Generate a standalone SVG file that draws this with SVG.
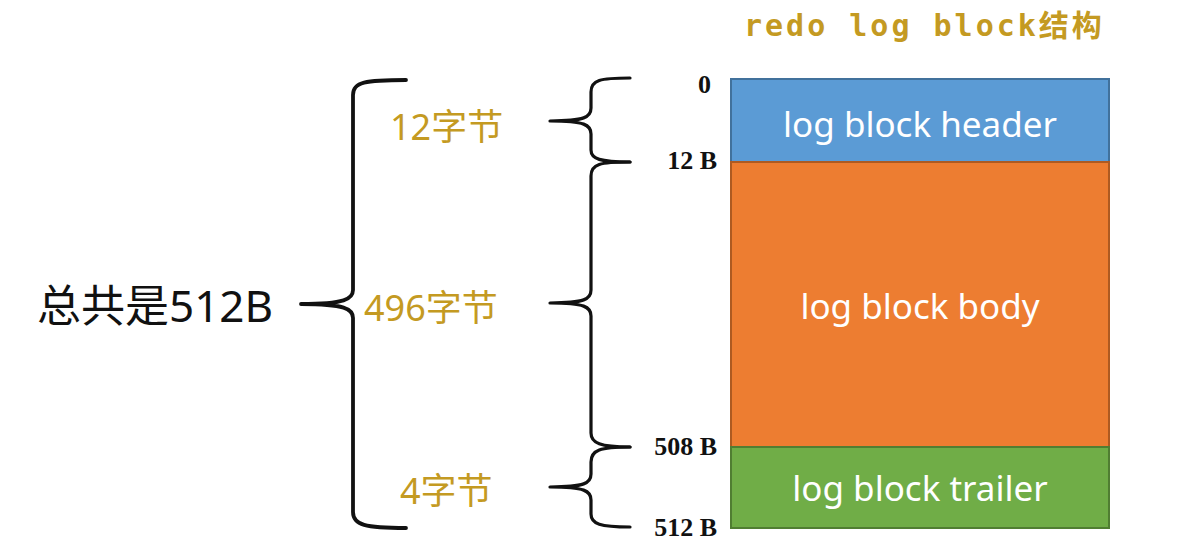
<svg xmlns="http://www.w3.org/2000/svg" width="1184" height="560" viewBox="0 0 1184 560">
<style>
.brace{fill:none;stroke:#111;stroke-width:3.2;stroke-linecap:round;stroke-linejoin:round}
.big{stroke-width:3.8}
.gold{font-family:"Noto Sans","Noto Sans CJK SC",sans-serif;font-size:36px;fill:#C49A22}
.off{font-family:"Liberation Serif",serif;font-weight:bold;font-size:26px;fill:#111;text-anchor:end}
.seg{font-family:"Noto Sans","Noto Sans CJK SC",sans-serif;font-size:35px;fill:#fff;text-anchor:middle}
</style>
<rect width="1184" height="560" fill="#fff"/>
<g id="title">
<text x="744" y="36" font-family="'DejaVu Sans Mono','Noto Sans CJK SC',monospace" font-weight="bold" font-size="30" letter-spacing="3" fill="#C49A22">redo log block结构</text>
</g>
<g id="total">
<text x="37" y="322" font-family="'Noto Sans','Noto Sans CJK SC',sans-serif" font-size="44" fill="#111">总共是512B</text>
</g>
<g id="part-header-size"><text class="gold" x="390" y="140">12字节</text></g>
<g id="part-body-size"><text class="gold" x="364" y="321">496字节</text></g>
<g id="part-trailer-size"><text class="gold" x="400" y="504">4字节</text></g>
<g id="offsets">
<text class="off" x="711" y="93">0</text>
<text class="off" x="717" y="169">12 B</text>
<text class="off" x="717" y="455">508 B</text>
<text class="off" x="717" y="536">512 B</text>
</g>
<g id="header">
<rect x="731" y="79" width="378" height="83" fill="#5B9BD5" stroke="#41719C" stroke-width="2"/>
<text class="seg" x="920" y="137">log block header</text>
</g>
<g id="body">
<rect x="731" y="162" width="378" height="285" fill="#ED7D31" stroke="#AE5A21" stroke-width="2"/>
<text class="seg" x="920" y="319">log block body</text>
</g>
<g id="trailer">
<rect x="731" y="447" width="378" height="81" fill="#70AD47" stroke="#507E32" stroke-width="2"/>
<text class="seg" x="920" y="501">log block trailer</text>
</g>
<g id="connectors">
<path class="brace big" d="M406,80 C365,80 353,82 353,95 L353,290 C353,299 345,304 301,304 C345,304 353,309 353,318 L353,512 C353,525 365,528 406,528"/>
<path class="brace" d="M630,78 C600,78 591,80 591,92 L591,108 C591,117 585,121 550,121 C585,121 591,125 591,134 L591,150 C591,159 600,162 630,162"/>
<path class="brace" d="M630,162 C600,162 591,164 591,176 L591,290 C591,299 585,303 550,303 C585,303 591,307 591,316 L591,433 C591,443 600,447 630,447"/>
<path class="brace" d="M630,447 C600,447 591,450 591,462 L591,474 C591,483 585,487 550,487 C585,487 591,491 591,500 L591,514 C591,524 600,527 630,527"/>
</g>
</svg>
